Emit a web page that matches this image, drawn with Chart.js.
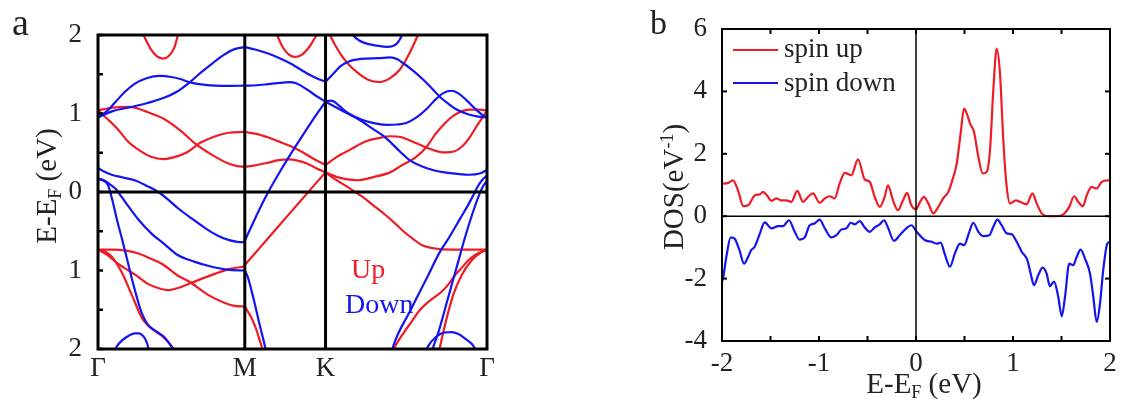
<!DOCTYPE html>
<html>
<head>
<meta charset="utf-8">
<script src="https://cdn.jsdelivr.net/npm/chart.js@4.4.0/dist/chart.umd.min.js"></script>
<style>
  body { margin: 0; background: #fff; }
  #fig { position: relative; width: 1126px; height: 410px; font-family: 'Liberation Serif', 'Times New Roman', serif; color: #222; }
  canvas { position: absolute; top: 0; }
  .txt { position: absolute; line-height: 1; white-space: nowrap; }
  .rot { transform: translate(-50%, -50%) rotate(-90deg); }
  .sub { font-size: 0.62em; vertical-align: -0.28em; }
  .sup { font-size: 0.62em; vertical-align: 0.55em; }
  .swatch { position: absolute; height: 2px; width: 45px; left: 733px; }
</style>
</head>
<body>
<div id="fig">
  <canvas id="bandChart" width="500" height="410" style="left:0"></canvas>
  <canvas id="dosChart" width="566" height="410" style="left:560px"></canvas>

  <div class="txt" style="left:12px;top:3px;font-size:38px">a</div>
  <div class="txt rot" style="left:48px;top:186px;font-size:29px">E-E<span class="sub">F</span> (eV)</div>
  <div class="txt" style="left:351px;top:255px;font-size:28px;color:#ee1d25">Up</div>
  <div class="txt" style="left:345px;top:290px;font-size:28px;color:#1414f0">Down</div>

  <div class="txt" style="left:650px;top:6px;font-size:34px">b</div>
  <div class="txt rot" style="left:673px;top:187px;font-size:29px">DOS(eV<span class="sup">-1</span>)</div>
  <div class="txt" style="left:924px;top:369px;font-size:29px;transform:translateX(-50%)">E-E<span class="sub">F</span> (eV)</div>
  <div id="dosLegend"></div>
</div>

<script>
const RED = '#ee1d25';
const BLUE = '#1414f0';

// high symmetry points along the k path
const kTicks = [0, 1, 1.55, 2.65];
const kLabels = ['Γ', 'M', 'K', 'Γ'];

// spin up bands, [k, E-EF] per segment
const upBands = [
  [[0.29,2.08],[0.31,2.0],[0.36,1.82],[0.40,1.73],[0.443,1.70],[0.48,1.73],[0.52,1.84],[0.545,2.0],[0.56,2.08]],
  [[0,1.04],[0.1,1.075],[0.22,1.085],[0.32,1.03],[0.45,0.93],[0.57,0.77],[0.66,0.62],[0.78,0.47],[0.88,0.37],[0.95,0.33],[1.0,0.32]],
  [[0,1.04],[0.07,0.92],[0.13,0.81],[0.206,0.64],[0.29,0.52],[0.36,0.45],[0.445,0.42],[0.52,0.445],[0.60,0.50],[0.70,0.63],[0.80,0.71],[0.89,0.755],[1.0,0.765]],
  [[0,-0.735],[0.1,-0.735],[0.2,-0.75],[0.27,-0.78],[0.36,-0.85],[0.44,-0.92],[0.54,-1.06],[0.62,-1.14],[0.75,-1.31],[0.86,-1.41],[0.93,-1.45],[1.0,-1.46]],
  [[0,-0.735],[0.07,-0.81],[0.12,-0.89],[0.19,-0.98],[0.25,-1.05],[0.34,-1.17],[0.42,-1.23],[0.48,-1.25],[0.55,-1.22],[0.62,-1.17],[0.70,-1.11],[0.80,-1.04],[0.90,-0.98],[1.0,-0.95]],
  [[0,-0.735],[0.05,-0.76],[0.093,-0.82],[0.13,-0.92],[0.161,-1.02],[0.23,-1.31],[0.298,-1.60],[0.34,-1.70],[0.38,-1.76],[0.44,-1.84],[0.50,-1.96],[0.53,-2.05]],
  [[1.20,2.1],[1.22,2.0],[1.26,1.84],[1.30,1.75],[1.345,1.72],[1.39,1.75],[1.44,1.85],[1.48,1.97],[1.51,2.05]],
  [[1.0,0.765],[1.08,0.74],[1.15,0.70],[1.23,0.645],[1.31,0.585],[1.40,0.50],[1.48,0.41],[1.55,0.345]],
  [[1.0,0.32],[1.07,0.34],[1.15,0.37],[1.23,0.405],[1.30,0.415],[1.36,0.40],[1.42,0.365],[1.49,0.30],[1.55,0.25]],
  [[1.0,-0.93],[1.1,-0.715],[1.2,-0.50],[1.3,-0.285],[1.4,-0.07],[1.5,0.145],[1.55,0.25]],
  [[1.0,-1.46],[1.02,-1.52],[1.05,-1.62],[1.08,-1.76],[1.10,-1.88],[1.12,-2.0],[1.13,-2.06]],
  [[1.565,2.07],[1.58,2.0],[1.648,1.77],[1.70,1.64],[1.762,1.53],[1.84,1.43],[1.92,1.40],[1.99,1.45],[2.057,1.56],[2.12,1.76],[2.18,2.0],[2.20,2.08]],
  [[1.55,0.345],[1.63,0.45],[1.717,0.54],[1.83,0.65],[1.92,0.69],[1.99,0.71],[2.06,0.70],[2.17,0.62],[2.26,0.55],[2.35,0.505],[2.43,0.52],[2.48,0.58],[2.53,0.69],[2.58,0.84],[2.62,0.95],[2.65,1.04]],
  [[1.55,0.25],[1.63,0.19],[1.70,0.16],[1.77,0.15],[1.875,0.19],[1.99,0.25],[2.06,0.33],[2.17,0.45],[2.24,0.58],[2.30,0.74],[2.36,0.87],[2.42,0.97],[2.48,1.03],[2.53,1.05],[2.60,1.05],[2.65,1.04]],
  [[1.55,0.25],[1.60,0.18],[1.66,0.11],[1.72,0.04],[1.80,-0.06],[1.875,-0.17],[1.95,-0.28],[2.012,-0.38],[2.08,-0.50],[2.148,-0.60],[2.205,-0.675],[2.296,-0.72],[2.41,-0.735],[2.65,-0.735]],
  [[2.00,-2.06],[2.023,-1.97],[2.08,-1.80],[2.137,-1.65],[2.19,-1.51],[2.25,-1.40],[2.30,-1.33],[2.341,-1.27],[2.39,-1.17],[2.432,-1.06],[2.48,-0.96],[2.523,-0.87],[2.57,-0.80],[2.61,-0.76],[2.65,-0.735]],
  [[2.32,-2.06],[2.33,-1.97],[2.375,-1.61],[2.42,-1.31],[2.477,-1.06],[2.546,-0.87],[2.60,-0.78],[2.65,-0.735]]
];

// spin down bands
const downBands = [
  [[0,0.95],[0.1,1.03],[0.22,1.08],[0.33,1.13],[0.45,1.20],[0.54,1.28],[0.62,1.39],[0.70,1.52],[0.78,1.64],[0.86,1.75],[0.93,1.82],[1.0,1.845]],
  [[0,0.95],[0.06,1.03],[0.116,1.14],[0.18,1.27],[0.252,1.38],[0.33,1.45],[0.422,1.48],[0.50,1.465],[0.56,1.44],[0.62,1.40],[0.70,1.37],[0.80,1.355],[0.9,1.352],[1.0,1.355]],
  [[0,0.31],[0.04,0.26],[0.093,0.22],[0.17,0.185],[0.25,0.15],[0.33,0.08],[0.41,0.0],[0.48,-0.10],[0.547,-0.21],[0.64,-0.34],[0.73,-0.46],[0.81,-0.55],[0.888,-0.61],[0.95,-0.635],[1.0,-0.64]],
  [[0,0.17],[0.04,0.15],[0.08,0.10],[0.12,0.04],[0.16,-0.06],[0.21,-0.19],[0.275,-0.35],[0.37,-0.54],[0.45,-0.66],[0.54,-0.80],[0.66,-0.89],[0.75,-0.94],[0.88,-0.99],[1.0,-1.0]],
  [[0,0.17],[0.03,0.15],[0.068,0.09],[0.10,-0.12],[0.13,-0.36],[0.161,-0.58],[0.196,-0.84],[0.23,-1.10],[0.26,-1.31],[0.29,-1.50],[0.32,-1.63],[0.35,-1.71],[0.40,-1.78],[0.44,-1.83],[0.47,-1.89],[0.50,-1.97],[0.53,-2.06]],
  [[0.11,-2.04],[0.127,-1.97],[0.17,-1.88],[0.21,-1.83],[0.25,-1.80],[0.28,-1.80],[0.31,-1.84],[0.335,-1.93],[0.35,-2.04]],
  [[1.0,1.845],[1.07,1.815],[1.149,1.77],[1.23,1.71],[1.308,1.64],[1.38,1.56],[1.444,1.49],[1.50,1.44],[1.55,1.405]],
  [[1.0,1.355],[1.08,1.36],[1.16,1.375],[1.24,1.39],[1.30,1.40],[1.35,1.385],[1.42,1.31],[1.49,1.22],[1.55,1.15]],
  [[1.0,-0.62],[1.05,-0.42],[1.10,-0.22],[1.16,0.0],[1.23,0.23],[1.308,0.47],[1.38,0.68],[1.46,0.91],[1.55,1.15]],
  [[1.0,-1.0],[1.02,-1.08],[1.045,-1.25],[1.07,-1.44],[1.10,-1.68],[1.125,-1.87],[1.138,-1.97],[1.15,-2.06]],
  [[1.55,1.405],[1.60,1.50],[1.65,1.60],[1.705,1.66],[1.77,1.69],[1.83,1.70],[1.91,1.705],[1.99,1.715],[2.04,1.69],[2.08,1.64],[2.15,1.54],[2.216,1.43],[2.28,1.31],[2.33,1.21],[2.39,1.12],[2.443,1.05],[2.52,0.99],[2.59,0.96],[2.65,0.95]],
  [[1.55,1.15],[1.58,1.165],[1.61,1.15],[1.648,1.09],[1.70,1.01],[1.785,0.93],[1.87,0.88],[1.966,0.855],[2.04,0.86],[2.10,0.88],[2.17,0.95],[2.24,1.06],[2.30,1.18],[2.352,1.26],[2.41,1.29],[2.46,1.25],[2.51,1.17],[2.57,1.06],[2.62,0.98],[2.65,0.95]],
  [[1.55,1.15],[1.62,1.08],[1.70,1.00],[1.78,0.92],[1.875,0.80],[1.94,0.72],[2.00,0.62],[2.06,0.51],[2.12,0.41],[2.20,0.33],[2.28,0.28],[2.36,0.25],[2.45,0.23],[2.53,0.22],[2.60,0.235],[2.65,0.28]],
  [[1.72,2.06],[1.737,2.0],[1.78,1.93],[1.83,1.89],[1.90,1.865],[1.967,1.85],[2.01,1.86],[2.035,1.89],[2.055,1.94],[2.071,2.0],[2.085,2.06]],
  [[2.00,-2.05],[2.012,-1.96],[2.125,-1.52],[2.239,-1.10],[2.33,-0.76],[2.375,-0.63],[2.42,-0.49],[2.47,-0.33],[2.52,-0.17],[2.557,-0.04],[2.59,0.08],[2.62,0.16],[2.65,0.21]],
  [[2.27,-2.06],[2.285,-1.97],[2.32,-1.78],[2.386,-1.34],[2.44,-0.98],[2.50,-0.58],[2.55,-0.28],[2.60,-0.02],[2.625,0.08],[2.65,0.14]],
  [[2.23,-2.05],[2.25,-1.96],[2.30,-1.85],[2.36,-1.79],[2.41,-1.785],[2.455,-1.81],[2.51,-1.88],[2.557,-1.96],[2.58,-2.05]]
];

// DOS, [E-EF, DOS]
const dosUp = [
  [-2.0,1.04],[-1.94,1.06],[-1.887,1.15],[-1.835,0.83],[-1.78,0.32],[-1.73,0.35],[-1.66,0.67],[-1.61,0.70],[-1.577,0.78],
  [-1.526,0.62],[-1.49,0.49],[-1.44,0.57],[-1.39,0.51],[-1.34,0.51],[-1.285,0.46],[-1.224,0.81],[-1.165,0.46],[-1.113,0.62],
  [-1.062,0.73],[-0.993,0.43],[-0.94,0.57],[-0.89,0.64],[-0.838,0.57],[-0.787,1.05],[-0.735,1.39],[-0.667,1.31],[-0.598,1.82],
  [-0.529,1.18],[-0.477,1.10],[-0.426,0.62],[-0.374,0.30],[-0.323,0.62],[-0.289,0.99],[-0.237,0.51],[-0.186,0.19],[-0.134,0.51],
  [-0.093,0.75],[-0.048,0.35],[0.0,0.22],[0.034,0.41],[0.082,0.62],[0.127,0.41],[0.179,0.09],[0.23,0.30],[0.28,0.57],[0.333,0.78],
  [0.385,1.26],[0.42,1.69],[0.46,2.65],[0.495,3.45],[0.529,3.24],[0.557,2.97],[0.598,2.70],[0.643,1.90],[0.687,1.37],[0.729,1.42],
  [0.763,2.12],[0.797,4.04],[0.832,5.375],[0.866,4.57],[0.90,2.44],[0.935,0.94],[0.97,0.41],[1.031,0.51],[1.072,0.46],[1.14,0.38],
  [1.20,0.73],[1.244,0.41],[1.296,0.09],[1.35,0.0],[1.45,0.0],[1.52,0.06],[1.58,0.30],[1.63,0.64],[1.673,0.46],[1.72,0.32],
  [1.76,0.67],[1.81,0.94],[1.863,0.89],[1.914,1.10],[1.983,1.15],[2.0,1.15]
];
const dosDown = [
  [-2.0,-2.1],[-1.99,-2.0],[-1.955,-1.30],[-1.91,-0.68],[-1.87,-0.72],[-1.82,-1.09],[-1.773,-1.52],[-1.73,-1.30],[-1.70,-1.09],
  [-1.663,-0.98],[-1.61,-0.56],[-1.56,-0.20],[-1.49,-0.39],[-1.42,-0.32],[-1.37,-0.32],[-1.31,-0.13],[-1.25,-0.50],[-1.20,-0.75],
  [-1.147,-0.68],[-1.096,-0.29],[-1.044,-0.23],[-0.993,-0.11],[-0.94,-0.39],[-0.873,-0.68],[-0.82,-0.61],[-0.77,-0.43],[-0.718,-0.39],
  [-0.673,-0.21],[-0.632,-0.26],[-0.58,-0.16],[-0.529,-0.36],[-0.477,-0.50],[-0.426,-0.36],[-0.374,-0.26],[-0.33,-0.13],[-0.289,-0.36],
  [-0.227,-0.79],[-0.168,-0.61],[-0.10,-0.39],[-0.048,-0.29],[0.007,-0.50],[0.093,-0.77],[0.162,-0.82],[0.213,-0.88],[0.254,-0.85],
  [0.30,-1.25],[0.35,-1.62],[0.40,-1.20],[0.454,-0.88],[0.495,-0.93],[0.55,-0.50],[0.59,-0.21],[0.643,-0.50],[0.694,-0.64],[0.756,-0.61],
  [0.797,-0.34],[0.838,-0.11],[0.883,-0.29],[0.935,-0.55],[0.987,-0.58],[1.038,-0.82],[1.09,-1.14],[1.148,-1.41],[1.182,-1.84],[1.216,-2.21],
  [1.26,-1.89],[1.306,-1.65],[1.347,-1.84],[1.38,-2.24],[1.423,-2.10],[1.467,-2.59],[1.502,-3.21],[1.536,-2.59],[1.58,-1.52],[1.62,-1.57],
  [1.657,-1.30],[1.698,-1.07],[1.742,-1.36],[1.794,-1.84],[1.828,-2.59],[1.863,-3.39],[1.897,-2.80],[1.93,-1.73],[1.972,-0.88],[2.0,-0.82]
];
const dosLabels = ['spin up', 'spin down'];

const tickFont = { family: "'Liberation Serif', 'Times New Roman', serif", size: 27 };
const textColor = '#222';

function lineDataset(pairs, color, width) {
  return {
    data: pairs.map(([x, y]) => ({ x, y })),
    borderColor: color,
    borderWidth: width,
    pointRadius: 0,
    cubicInterpolationMode: 'monotone',
    fill: false
  };
}

// frame, reference lines and inward ticks
const framePlugin = {
  id: 'frame',
  afterDatasetsDraw(chart, args, opts) {
    const { ctx, chartArea: a, scales: { x, y } } = chart;
    const line = (x1, y1, x2, y2) => {
      ctx.beginPath();
      ctx.moveTo(x1, y1);
      ctx.lineTo(x2, y2);
      ctx.stroke();
    };
    ctx.save();
    ctx.strokeStyle = '#000';
    ctx.lineWidth = opts.refWidth;
    opts.xLines.forEach(v => { const px = x.getPixelForValue(v); line(px, a.top, px, a.bottom); });
    opts.yLines.forEach(v => { const py = y.getPixelForValue(v); line(a.left, py, a.right, py); });

    ctx.lineWidth = opts.tickWidth;
    const len = opts.tickLen;
    const sides = opts.tickSides;
    y.ticks.forEach(t => {
      const py = y.getPixelForValue(t.value);
      if (sides.includes('left')) line(a.left, py, a.left + len, py);
      if (sides.includes('right')) line(a.right, py, a.right - len, py);
    });
    x.ticks.forEach(t => {
      const px = x.getPixelForValue(t.value);
      if (sides.includes('bottom')) line(px, a.bottom, px, a.bottom - len);
      if (sides.includes('top')) line(px, a.top, px, a.top + len);
    });

    ctx.lineWidth = opts.borderWidth;
    ctx.strokeRect(a.left, a.top, a.right - a.left, a.bottom - a.top);
    ctx.restore();
  }
};

function renderBandChart() {
  const datasets = [
    ...downBands.map(b => lineDataset(b, BLUE, 2.2)),
    ...upBands.map(b => lineDataset(b, RED, 2.2))
  ];
  new Chart(document.getElementById('bandChart'), {
    type: 'line',
    data: { datasets: datasets },
    options: {
      responsive: false,
      animation: false,
      layout: { padding: { left: 0, right: 13, top: 35, bottom: 0 } },
      plugins: {
        legend: { display: false },
        tooltip: { enabled: false },
        frame: { xLines: [kTicks[1], kTicks[2]], yLines: [0], refWidth: 3, borderWidth: 3, tickWidth: 2.5, tickLen: 5, tickSides: ['left'] }
      },
      scales: {
        x: {
          type: 'linear', min: kTicks[0], max: kTicks[3],
          grid: { display: false }, border: { display: false },
          afterBuildTicks: s => { s.ticks = kTicks.map(v => ({ value: v })); },
          afterFit: s => { s.height = 61; },
          ticks: { autoSkip: false, maxRotation: 0, padding: -4, font: tickFont, color: textColor, callback: (v, i) => kLabels[i] }
        },
        y: {
          min: -2, max: 2,
          grid: { display: false }, border: { display: false },
          afterFit: s => { s.width = 98; },
          // the original prints the negative energies without a minus sign
          ticks: { stepSize: 0.5, padding: 8, font: tickFont, color: textColor, callback: v => Number.isInteger(v) ? String(Math.abs(v)) : '' }
        }
      }
    },
    plugins: [framePlugin]
  });
}

function renderDosChart() {
  const colors = [RED, BLUE];
  new Chart(document.getElementById('dosChart'), {
    type: 'line',
    data: {
      datasets: [
        { label: dosLabels[0], ...lineDataset(dosUp, RED, 2.2) },
        { label: dosLabels[1], ...lineDataset(dosDown, BLUE, 2.2) }
      ]
    },
    options: {
      responsive: false,
      animation: false,
      layout: { padding: { left: 0, right: 16, top: 29, bottom: 0 } },
      plugins: {
        legend: { display: false },
        tooltip: { enabled: false },
        frame: { xLines: [0], yLines: [0], refWidth: 1.5, borderWidth: 2, tickWidth: 2, tickLen: 5, tickSides: ['left', 'right', 'top', 'bottom'] }
      },
      scales: {
        x: {
          type: 'linear', min: -2, max: 2,
          grid: { display: false }, border: { display: false },
          afterFit: s => { s.height = 69; },
          ticks: { stepSize: 0.5, autoSkip: false, maxRotation: 0, padding: -1, font: tickFont, color: textColor, callback: v => Number.isInteger(v) ? String(v) : '' }
        },
        y: {
          min: -4, max: 6,
          grid: { display: false }, border: { display: false },
          afterFit: s => { s.width = 162; },
          ticks: { stepSize: 1, padding: 7, font: tickFont, color: textColor, callback: v => v % 2 === 0 ? String(v) : '' }
        }
      }
    },
    plugins: [framePlugin]
  });
  renderDosLegend('dosLegend', dosLabels, colors);
}

function renderDosLegend(containerId, labels, colors) {
  const box = document.getElementById(containerId);
  box.innerHTML = '';
  labels.forEach((label, i) => {
    const sw = document.createElement('div');
    sw.className = 'swatch';
    sw.style.background = colors[i];
    sw.style.top = (49 + i * 33) + 'px';
    const txt = document.createElement('div');
    txt.className = 'txt';
    txt.style.left = '784px';
    txt.style.top = (35 + i * 34) + 'px';
    txt.style.fontSize = '27px';
    txt.textContent = label;
    box.appendChild(sw);
    box.appendChild(txt);
  });
}

renderBandChart();
renderDosChart();
</script>
</body>
</html>
